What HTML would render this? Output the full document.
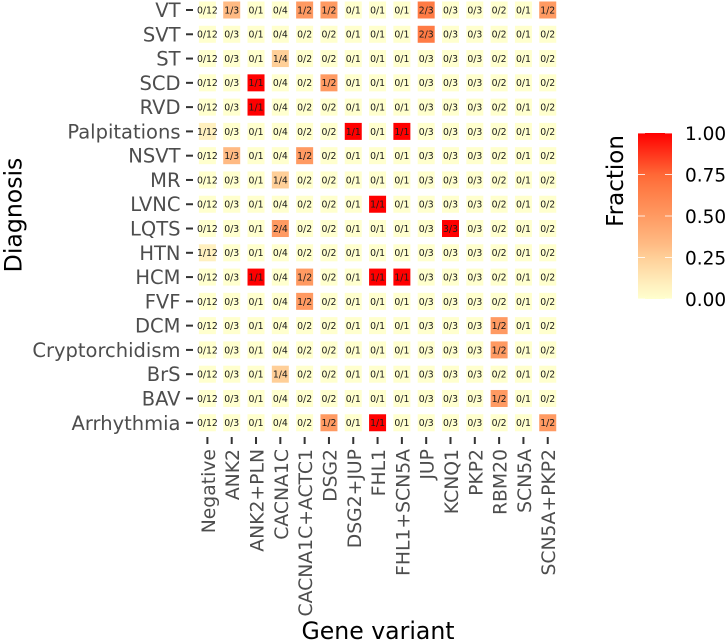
<!DOCTYPE html>
<html lang="en">
<head>
<meta charset="utf-8">
<title>Gene variant by diagnosis heatmap</title>
<style>
html,body{margin:0;padding:0;background:#fff;width:726px;height:642px;overflow:hidden}
svg{display:block;font-family:"DejaVu Sans","Liberation Sans",sans-serif}
</style>
</head>
<body>
<svg id="chart" xmlns="http://www.w3.org/2000/svg" width="726" height="642" viewBox="0 0 726 642">
  <defs>
    <linearGradient id="fraction-gradient" x1="0" y1="1" x2="0" y2="0"></linearGradient>
  </defs>
  <g id="tiles"></g>
  <g id="x-axis"></g>
  <g id="y-axis"></g>
  <text x="378" y="639" text-anchor="middle" font-size="23.6" fill="#000">Gene variant</text>
  <text transform="translate(21.7,215) rotate(-90)" text-anchor="middle" font-size="23.6" fill="#000">Diagnosis</text>
  <g id="legend">
    <text transform="translate(623,181) rotate(-90)" text-anchor="middle" font-size="23" fill="#000">Fraction</text>
    <rect x="638" y="133" width="34" height="166" fill="url(#fraction-gradient)"></rect>
  </g>
</svg>
<script>
const genes = ["Negative","ANK2","ANK2+PLN","CACNA1C","CACNA1C+ACTC1","DSG2","DSG2+JUP","FHL1","FHL1+SCN5A","JUP","KCNQ1","PKP2","RBM20","SCN5A","SCN5A+PKP2"];
const geneTotals = [12,3,1,4,2,2,1,1,1,3,3,3,2,1,2];
const diagnoses = ["VT","SVT","ST","SCD","RVD","Palpitations","NSVT","MR","LVNC","LQTS","HTN","HCM","FVF","DCM","Cryptorchidism","BrS","BAV","Arrhythmia"];
const counts = [
  [0,1,0,0,1,1,0,0,0,2,0,0,0,0,1],
  [0,0,0,0,0,0,0,0,0,2,0,0,0,0,0],
  [0,0,0,1,0,0,0,0,0,0,0,0,0,0,0],
  [0,0,1,0,0,1,0,0,0,0,0,0,0,0,0],
  [0,0,1,0,0,0,0,0,0,0,0,0,0,0,0],
  [1,0,0,0,0,0,1,0,1,0,0,0,0,0,0],
  [0,1,0,0,1,0,0,0,0,0,0,0,0,0,0],
  [0,0,0,1,0,0,0,0,0,0,0,0,0,0,0],
  [0,0,0,0,0,0,0,1,0,0,0,0,0,0,0],
  [0,0,0,2,0,0,0,0,0,0,3,0,0,0,0],
  [1,0,0,0,0,0,0,0,0,0,0,0,0,0,0],
  [0,0,1,0,1,0,0,1,1,0,0,0,0,0,0],
  [0,0,0,0,1,0,0,0,0,0,0,0,0,0,0],
  [0,0,0,0,0,0,0,0,0,0,0,0,1,0,0],
  [0,0,0,0,0,0,0,0,0,0,0,0,1,0,0],
  [0,0,0,1,0,0,0,0,0,0,0,0,0,0,0],
  [0,0,0,0,0,0,0,0,0,0,0,0,1,0,0],
  [0,0,0,0,0,1,0,1,0,0,0,0,0,0,1]
];
const legendTicks = [0, 0.25, 0.5, 0.75, 1];
const legendTickLabels = ["0.00","0.25","0.50","0.75","1.00"];

const SVG_NS = "http://www.w3.org/2000/svg";
const X0 = 207.4, XSTEP = 24.31, Y0 = 10, YSTEP = 24.28, TILE = 17;
const LEG_X = 638, LEG_W = 34, LEG_TOP = 133, LEG_BOTTOM = 299;
function xScale(i){ return X0 + i * XSTEP; }
function yScale(j){ return Y0 + j * YSTEP; }
function legendY(v){ return LEG_BOTTOM - v * (LEG_BOTTOM - LEG_TOP); }

const rampStops = [[0,255,255,206],[0.08,255,241,192],[0.25,255,207,152],[0.33,255,187,132],[0.5,255,154,98],[0.67,255,122,68],[0.75,255,104,54],[1,255,0,0]];
function fractionColor(f){
  for (let k = 1; k < rampStops.length; k++) {
    if (f <= rampStops[k][0]) {
      const a = rampStops[k-1], b = rampStops[k];
      const t = (f - a[0]) / (b[0] - a[0]);
      return "rgb(" + [1,2,3].map(c => Math.round(a[c] + (b[c]-a[c]) * t)).join(",") + ")";
    }
  }
  return "rgb(255,0,0)";
}
function make(tag, attrs, parent, text){
  const el = document.createElementNS(SVG_NS, tag);
  for (const key in attrs) el.setAttribute(key, attrs[key]);
  if (text !== undefined) el.textContent = text;
  parent.appendChild(el);
  return el;
}

const tilesGroup = document.getElementById("tiles");
diagnoses.forEach((diagnosis, j) => {
  genes.forEach((gene, i) => {
    const f = counts[j][i] / geneTotals[i];
    const tile = make("rect", {x: xScale(i) - TILE/2, y: yScale(j) - TILE/2, width: TILE, height: TILE, fill: fractionColor(f)}, tilesGroup);
    
    
    const label = make("text", {x: xScale(i), y: yScale(j) + 3.4, "text-anchor": "middle", "font-size": 9.3, fill: "#1a1a1a"}, tilesGroup, counts[j][i] + "/" + geneTotals[i]);
    
    
  });
});

const xAxis = document.getElementById("x-axis");
genes.forEach((gene, i) => {
  const tick = make("rect", {x: xScale(i) - 1, y: 437, width: 2, height: 7, fill: "#333"}, xAxis);
  
  
  const label = make("text", {transform: "translate(" + (xScale(i) + 7.5) + ",449) rotate(-90)", "text-anchor": "end", "font-size": 18.8, fill: "#4d4d4d"}, xAxis, gene);
  
  
});

const yAxis = document.getElementById("y-axis");
diagnoses.forEach((diagnosis, j) => {
  const tick = make("rect", {x: 186, y: yScale(j) - 1, width: 7, height: 2, fill: "#333"}, yAxis);
  
  
  const label = make("text", {x: 180.5, y: yScale(j) + 7, "text-anchor": "end", "font-size": 19.5, fill: "#4d4d4d"}, yAxis, diagnosis);
  
  
});

const gradient = document.getElementById("fraction-gradient");
rampStops.forEach(s => {
  make("stop", {offset: s[0], "stop-color": fractionColor(s[0])}, gradient);
});

const legend = document.getElementById("legend");
legendTicks.forEach((v, k) => {
  const y = legendY(v);
  const left = make("rect", {x: LEG_X, y: y - 0.4, width: 7, height: 0.8, fill: "#fff"}, legend);
  
  
  const right = make("rect", {x: LEG_X + LEG_W - 7, y: y - 0.4, width: 7, height: 0.8, fill: "#fff"}, legend);
  
  
  const label = make("text", {x: 685, y: y + 6.8, "font-size": 18.5, fill: "#000"}, legend, legendTickLabels[k]);
  
  
});
</script>
</body>
</html>
